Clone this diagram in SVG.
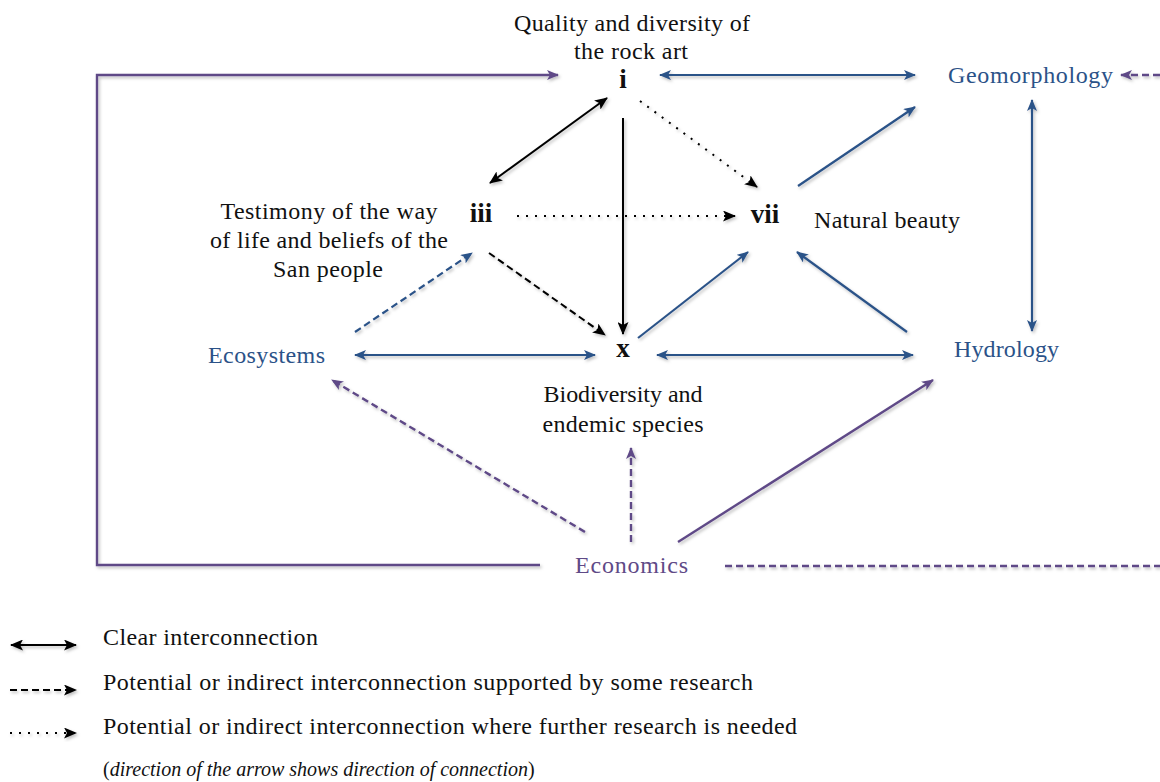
<svg xmlns="http://www.w3.org/2000/svg" width="1160" height="782" viewBox="0 0 1160 782">
<style>
text{font-family:"Liberation Serif","Times New Roman",serif;font-size:24px;fill:#111}
.b{font-weight:bold;font-size:27px}
.blu{fill:#2B5288}
.pur{fill:#5F4A87}
.m{text-anchor:middle}
.lk{stroke:#000;stroke-width:2;fill:none}
.lb{stroke:#2B5288;stroke-width:2.2;fill:none}
.lp{stroke:#5F4A87;stroke-width:2.4;fill:none}
.dash{stroke-dasharray:7 4}
.dot{stroke-dasharray:2 7}
.it{font-style:italic}
.note{font-size:20px}
</style>
<defs>
<filter id="sh" x="-10%" y="-10%" width="120%" height="120%">
<feDropShadow dx="1.5" dy="2" stdDeviation="1.5" flood-color="#000" flood-opacity="0.25"/>
</filter>
<marker id="ak" viewBox="0 0 13 11" refX="12" refY="5.5" markerWidth="13" markerHeight="11" markerUnits="userSpaceOnUse" orient="auto-start-reverse"><path d="M0,0 L13,5.5 L0,11 L3,5.5 Z" fill="#000"/></marker>
<marker id="ab" viewBox="0 0 12 10" refX="11" refY="5" markerWidth="12" markerHeight="10" markerUnits="userSpaceOnUse" orient="auto-start-reverse"><path d="M0,0 L12,5 L0,10 L3,5 Z" fill="#2B5288"/></marker>
<marker id="ap" viewBox="0 0 12 10" refX="11" refY="5" markerWidth="12" markerHeight="10" markerUnits="userSpaceOnUse" orient="auto-start-reverse"><path d="M0,0 L12,5 L0,10 L3,5 Z" fill="#5F4A87"/></marker>
</defs>

<g id="connectors" filter="url(#sh)">
<path class="lp" d="M540,565 H97 V75 H558" marker-end="url(#ap)"/>
<line class="lb" x1="660" y1="75" x2="915" y2="75" marker-start="url(#ab)" marker-end="url(#ab)"/>
<line class="lp dash" x1="1160" y1="75" x2="1121" y2="75" marker-end="url(#ap)"/>
<line class="lp dash" x1="725" y1="566" x2="1160" y2="566"/>
<line class="lk" x1="607" y1="98" x2="490" y2="183" marker-start="url(#ak)" marker-end="url(#ak)"/>
<line class="lk" x1="623" y1="118" x2="623" y2="334" marker-end="url(#ak)"/>
<line class="lk dot" x1="640" y1="101" x2="757" y2="187" marker-end="url(#ak)"/>
<line class="lk dot" x1="517" y1="216" x2="735" y2="216" marker-end="url(#ak)"/>
<line class="lb" x1="798" y1="186" x2="915" y2="107" marker-end="url(#ab)"/>
<line class="lk dash" x1="489" y1="253" x2="605" y2="335" marker-end="url(#ak)"/>
<line class="lb dash" x1="355" y1="332" x2="472" y2="253" marker-end="url(#ab)"/>
<line class="lb" x1="355" y1="355" x2="595" y2="355" marker-start="url(#ab)" marker-end="url(#ab)"/>
<line class="lb" x1="657" y1="355" x2="913" y2="355" marker-start="url(#ab)" marker-end="url(#ab)"/>
<line class="lb" x1="638" y1="338" x2="748" y2="252" marker-end="url(#ab)"/>
<line class="lb" x1="907" y1="332" x2="797" y2="252" marker-end="url(#ab)"/>
<line class="lb" x1="1032" y1="100" x2="1032" y2="331" marker-start="url(#ab)" marker-end="url(#ab)"/>
<line class="lp dash" x1="585" y1="532" x2="332" y2="380" marker-end="url(#ap)"/>
<line class="lp dash" x1="631" y1="542" x2="631" y2="448" marker-end="url(#ap)"/>
<line class="lp" x1="678" y1="542" x2="933" y2="380" marker-end="url(#ap)"/>
</g>

<g id="node-i">
<text class="m" x="632" y="31" textLength="236">Quality and diversity of</text>
<text class="m" x="631" y="59" textLength="114">the rock art</text>
<text class="b m" x="623" y="88">i</text>
</g>
<g id="node-iii">
<text class="m" x="329" y="219" textLength="217">Testimony of the way</text>
<text class="m" x="329" y="248" textLength="238">of life and beliefs of the</text>
<text class="m" x="328" y="277" textLength="110">San people</text>
<text class="b m" x="481" y="222">iii</text>
</g>
<g id="node-vii">
<text class="b m" x="765" y="223">vii</text>
<text x="814" y="228" textLength="146">Natural beauty</text>
</g>
<g id="node-x">
<text class="b m" x="623" y="357">x</text>
<text class="m" x="623" y="402" textLength="159">Biodiversity and</text>
<text class="m" x="623" y="432" textLength="161">endemic species</text>
</g>
<g id="node-geomorphology"><text class="blu" x="948" y="83" textLength="165">Geomorphology</text></g>
<g id="node-hydrology"><text class="blu" x="954" y="357" textLength="105">Hydrology</text></g>
<g id="node-ecosystems"><text class="blu" x="208" y="363" textLength="117">Ecosystems</text></g>
<g id="node-economics"><text class="pur" x="575" y="573" textLength="113">Economics</text></g>

<g id="legend">
<g filter="url(#sh)">
<line class="lk" x1="11" y1="645" x2="76" y2="645" marker-start="url(#ak)" marker-end="url(#ak)"/>
<line class="lk dash" x1="10" y1="690" x2="76" y2="690" marker-end="url(#ak)"/>
<line class="lk dot" x1="10" y1="733" x2="76" y2="733" marker-end="url(#ak)"/>
</g>
<text x="103" y="645" textLength="215">Clear interconnection</text>
<text x="103" y="690" textLength="650">Potential or indirect interconnection supported by some research</text>
<text x="103" y="734" textLength="694">Potential or indirect interconnection where further research is needed</text>
<text class="note" x="103" y="776">(<tspan class="it">direction of the arrow shows direction of connection</tspan>)</text>
</g>
</svg>
